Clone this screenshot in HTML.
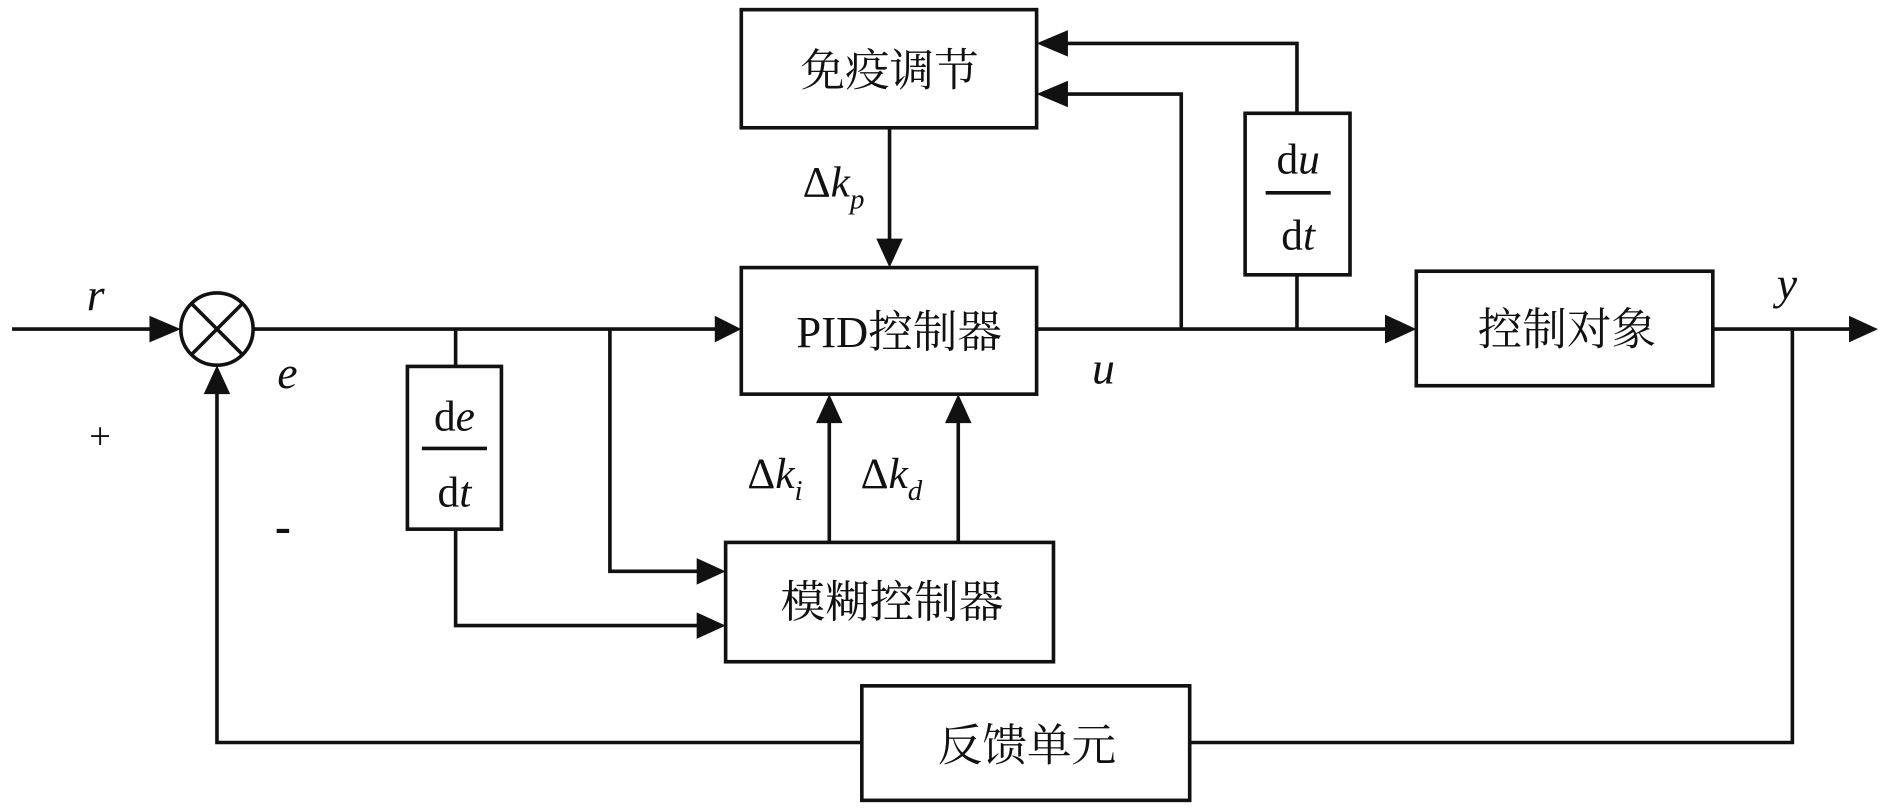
<!DOCTYPE html>
<html><head><meta charset="utf-8"><style>
html,body{margin:0;padding:0;background:#fff;}
svg{display:block;}
text{font-family:"Liberation Serif","Noto Serif CJK SC",serif;fill:#111;}
.cn{font-family:"Liberation Serif","Noto Serif CJK SC","Noto Sans CJK SC",serif;font-size:37px;}
.it{font-style:italic;}
</style></head><body>
<svg width="1890" height="810" viewBox="0 0 1568 672" preserveAspectRatio="none" xmlns="http://www.w3.org/2000/svg">
<defs>
<marker id="a" markerWidth="10" markerHeight="10" refX="9" refY="5" orient="auto" markerUnits="userSpaceOnUse" viewBox="0 0 10 10">
</marker>
</defs>
<g fill="none" stroke="#111" stroke-width="3">
<rect x="615" y="8" width="245" height="98"/>
<rect x="615" y="222" width="245" height="105"/>
<rect x="602" y="450" width="272" height="99"/>
<rect x="1175" y="225" width="246" height="95"/>
<rect x="715" y="569" width="272" height="95"/>
<rect x="1033" y="94" width="87" height="134"/>
<rect x="338" y="304" width="78" height="135"/>
<circle cx="180" cy="273" r="30"/>
<line x1="159" y1="252" x2="201" y2="294"/>
<line x1="201" y1="252" x2="159" y2="294"/>
<polyline points="10,273 128,273"/>
<polyline points="210,273 595,273"/>
<polyline points="860,273 1155,273"/>
<polyline points="1421,273 1538,273"/>
<polyline points="378,273 378,304"/>
<polyline points="378,439 378,519 582,519"/>
<polyline points="506,273 506,474 582,474"/>
<polyline points="980,273 980,78 880,78"/>
<polyline points="1076,273 1076,228"/>
<polyline points="1076,94 1076,36 880,36"/>
<polyline points="738,106 738,202"/>
<polyline points="688,450 688,347"/>
<polyline points="795,450 795,347"/>
<polyline points="1487,273 1487,616 987,616"/>
<polyline points="715,616 180,616 180,323"/>
<line x1="350" y1="372" x2="404" y2="372"/>
<line x1="1050" y1="160" x2="1104" y2="160"/>
</g>
<g fill="#111">
<polygon points="150,273 124,262 124,284"/>
<polygon points="615,273 593,262 593,284"/>
<polygon points="1175,273 1149,261 1149,285"/>
<polygon points="1558,273 1534,262 1534,284"/>
<polygon points="602,474 578,463 578,485"/>
<polygon points="602,519 578,508 578,530"/>
<polygon points="860,78 886,67 886,89"/>
<polygon points="860,36 886,25 886,47"/>
<polygon points="738,222 727,198 749,198"/>
<polygon points="688,327 677,351 699,351"/>
<polygon points="795,327 784,351 806,351"/>
<polygon points="180,303 169,327 191,327"/>
</g>
<text class="cn" x="738" y="71" text-anchor="middle">免疫调节</text>
<text class="cn" x="746" y="288" text-anchor="middle">PID控制器</text>
<text class="cn" x="740" y="512" text-anchor="middle">模糊控制器</text>
<text class="cn" x="1300" y="286" text-anchor="middle">控制对象</text>
<text class="cn" x="852" y="631" text-anchor="middle">反馈单元</text>
<text x="377" y="357" font-size="36" text-anchor="middle">d<tspan class="it">e</tspan></text>
<text x="377" y="420" font-size="36" text-anchor="middle">d<tspan class="it">t</tspan></text>
<text x="1077" y="144" font-size="36" text-anchor="middle">d<tspan class="it">u</tspan></text>
<text x="1077" y="207" font-size="36" text-anchor="middle">d<tspan class="it">t</tspan></text>
<text x="666" y="163" font-size="36">Δ<tspan class="it">k</tspan><tspan class="it" font-size="24" dy="10">p</tspan></text>
<text x="620" y="405" font-size="36">Δ<tspan class="it">k</tspan><tspan class="it" font-size="24" dy="10">i</tspan></text>
<text x="714" y="405" font-size="36">Δ<tspan class="it">k</tspan><tspan class="it" font-size="24" dy="10">d</tspan></text>
<text class="it" x="72" y="257" font-size="38">r</text>
<text class="it" x="230" y="322" font-size="38">e</text>
<text x="74" y="372" font-size="32">+</text>
<text x="228" y="450" font-size="40" font-weight="bold">-</text>
<text class="it" x="906" y="318" font-size="38">u</text>
<text class="it" x="1474" y="248" font-size="38">y</text>
</svg>
</body></html>
